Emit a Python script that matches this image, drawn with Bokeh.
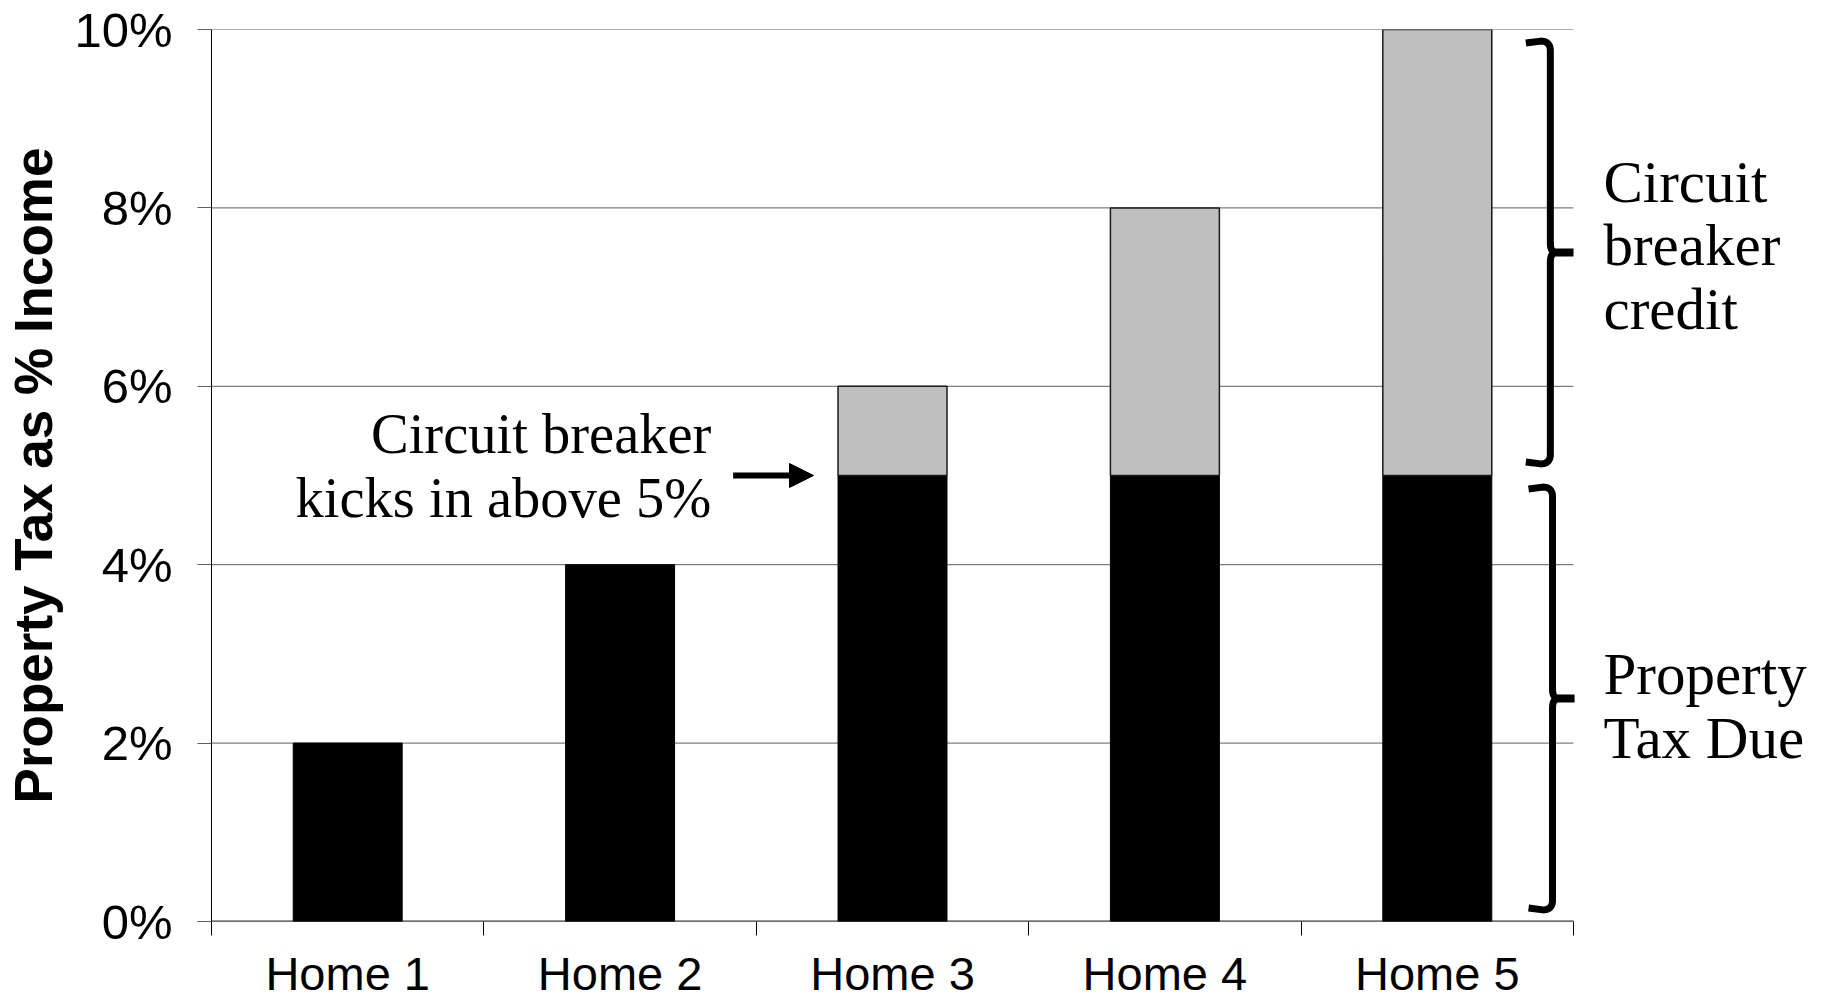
from bokeh.plotting import figure
from bokeh.models import FixedTicker, PrintfTickFormatter, Label, Arrow, NormalHead, Range1d
from bokeh.embed import file_html
from bokeh.resources import INLINE

# ---- data -------------------------------------------------------------
HOMES = ["Home 1", "Home 2", "Home 3", "Home 4", "Home 5"]
TAX_DUE = [2, 4, 5, 5, 5]          # property tax actually paid, % of income
CREDIT = [0, 0, 1, 3, 5]           # circuit breaker credit, % of income
THRESHOLD = 5                      # credit kicks in above this share of income
Y_TICKS = [0, 2, 4, 6, 8, 10]

BAR_W = 0.4
SANS = "Liberation Sans"
SERIF = "Liberation Serif"
GRID = "#5e5e5e"

n = len(HOMES)
centers = [i + 0.5 for i in range(n)]
totals = [d + c for d, c in zip(TAX_DUE, CREDIT)]

# the frame runs on past the last category so the side notes have room
X_END = n + 256 / 272.4

p = figure(width=1829, height=1002,
           x_range=Range1d(0, X_END), y_range=Range1d(0, max(Y_TICKS)),
           output_backend="svg", toolbar_location=None,
           min_border_left=211, min_border_right=0,
           min_border_top=29, min_border_bottom=78)
p.outline_line_color = None
p.background_fill_color = "white"
p.border_fill_color = "white"

# ---- gridlines and baseline, stopping at the last category ----------------
p.segment(x0=[0] * len(Y_TICKS), x1=[n] * len(Y_TICKS), y0=Y_TICKS, y1=Y_TICKS,
          line_color=GRID, line_width=1)
p.segment(x0=[0], x1=[n], y0=[0], y1=[0], line_color="#333333", line_width=2)

# ---- bars ---------------------------------------------------------------
p.vbar(x=centers, width=BAR_W, bottom=0, top=TAX_DUE,
       fill_color="black", line_color="black", line_width=1)

cx = [x for x, c in zip(centers, CREDIT) if c > 0]
cb = [d for d, c in zip(TAX_DUE, CREDIT) if c > 0]
ct = [t for t, c in zip(totals, CREDIT) if c > 0]
p.vbar(x=cx, width=BAR_W, bottom=cb, top=ct,
       fill_color="#bfbfbf", line_color="#1a1a1a", line_width=1.5)

# ---- axes ---------------------------------------------------------------
p.xaxis.ticker = FixedTicker(ticks=centers, minor_ticks=list(range(n + 1)))
p.xaxis.major_label_overrides = {c: h for c, h in zip(centers, HOMES)}
p.xaxis.major_tick_out = 0
p.xaxis.major_tick_in = 0
p.xaxis.minor_tick_out = 14
p.xaxis.minor_tick_in = 0
p.xaxis.minor_tick_line_color = "black"
p.xaxis.axis_line_color = None
p.xaxis.major_label_text_font = SANS
p.xaxis.major_label_text_font_size = "47px"
p.xaxis.major_label_text_color = "black"
p.xaxis.major_label_standoff = 11

p.yaxis.ticker = FixedTicker(ticks=Y_TICKS, minor_ticks=[])
p.yaxis.formatter = PrintfTickFormatter(format="%d%%")
p.yaxis.major_tick_out = 14
p.yaxis.major_tick_in = 0
p.yaxis.major_tick_line_color = GRID
p.yaxis.minor_tick_line_color = None
p.yaxis.axis_line_color = "black"
p.yaxis.major_label_text_font = SANS
p.yaxis.major_label_text_font_size = "49px"
p.yaxis.major_label_text_color = "black"
p.yaxis.major_label_standoff = 25
p.yaxis.axis_label = "Property Tax as % Income"
p.yaxis.axis_label_text_font = SANS
p.yaxis.axis_label_text_font_style = "bold"
p.yaxis.axis_label_text_font_size = "53px"
p.yaxis.axis_label_text_color = "black"
p.yaxis.axis_label_standoff = 8

p.xgrid.visible = False
p.ygrid.visible = False


# ---- curly braces on the right -------------------------------------------
def brace(y_lo, y_hi, x_line, x_hook, x_tip, rx, ry, steps=12):
    xs, ys = [], []

    def quad(p0, p1, p2):
        for k in range(steps + 1):
            t = k / steps
            xs.append((1 - t) ** 2 * p0[0] + 2 * (1 - t) * t * p1[0] + t ** 2 * p2[0])
            ys.append((1 - t) ** 2 * p0[1] + 2 * (1 - t) * t * p1[1] + t ** 2 * p2[1])

    y_mid = (y_lo + y_hi) / 2
    xs.append(x_hook)
    ys.append(y_hi - ry * 0.2)
    quad((x_line - rx, y_hi), (x_line, y_hi), (x_line, y_hi - ry))
    # slight kink towards the point in the middle
    quad((x_line, y_mid + ry), (x_line, y_mid), (x_line + rx * 0.6, y_mid))
    quad((x_line + rx * 0.6, y_mid), (x_line, y_mid), (x_line, y_mid - ry))
    quad((x_line, y_lo + ry), (x_line, y_lo), (x_line - rx, y_lo))
    xs.append(x_hook)
    ys.append(y_lo + ry * 0.2)
    p.line(xs, ys, line_color="black", line_width=7, line_join="round")
    p.line([x_line, x_tip], [y_mid, y_mid], line_color="black", line_width=8)


inset = 0.13
x_line = n - 0.085
brace(THRESHOLD + inset, max(totals) - inset, x_line, x_line - 0.09,
      n, 0.035, 0.11)
brace(0 + inset, THRESHOLD - inset, x_line + 0.008, x_line - 0.08,
      n + 0.004, 0.035, 0.11)

# ---- arrow + note ----------------------------------------------------------
arrow_end = centers[2] - BAR_W / 2 - 0.09
arrow_start = arrow_end - 0.295
p.add_layout(Arrow(x_start=arrow_start, y_start=THRESHOLD,
                   x_end=arrow_end, y_end=THRESHOLD,
                   line_color="black", line_width=6,
                   end=NormalHead(size=24, fill_color="black", line_color="black")))

note_lines = ["Circuit breaker", "kicks in above 5%"]
for txt, yb in zip(note_lines, [5.465, 4.745]):
    p.add_layout(Label(x=arrow_start - 0.08, y=yb, text=txt,
                       text_font=SERIF, text_font_size="56.5px", text_color="black",
                       text_align="right", text_baseline="alphabetic"))

side_x = n + 0.11
for txt, yb in zip(["Circuit", "breaker", "credit"], [8.29, 7.58, 6.87]):
    p.add_layout(Label(x=side_x, y=yb, text=txt,
                       text_font=SERIF, text_font_size="59px", text_color="black",
                       text_align="left", text_baseline="alphabetic"))
for txt, yb in zip(["Property", "Tax Due"], [2.77, 2.06]):
    p.add_layout(Label(x=side_x, y=yb, text=txt,
                       text_font=SERIF, text_font_size="59px", text_color="black",
                       text_align="left", text_baseline="alphabetic"))

open("out.html", "w").write(file_html(p, INLINE))
